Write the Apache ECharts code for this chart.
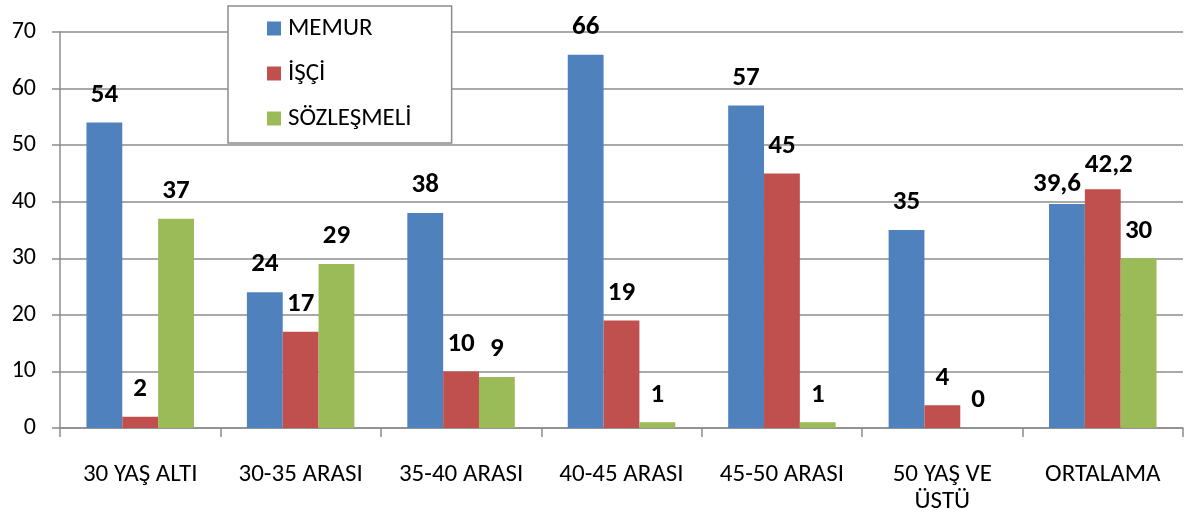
<!doctype html>
<html><head><meta charset="utf-8" />
<style>
  html,body,#app{margin:0;padding:0;width:1191px;height:515px;background:#ffffff}
</style>
<script src="https://cdn.jsdelivr.net/npm/echarts@6/dist/echarts.min.js"></script>
</head><body><div id="app"></div>
<script>
// kategoriler ve seriler
const categories = ['30 YAŞ ALTI', '30-35 ARASI', '35-40 ARASI', '40-45 ARASI', '45-50 ARASI', '50 YAŞ VE\nÜSTÜ', 'ORTALAMA'];
const seriesNames = ['MEMUR', 'İŞÇİ', 'SÖZLEŞMELİ'];
const memur = [54, 24, 38, 66, 57, 35, 39.6];
const isci = [2, 17, 10, 19, 45, 4, 42.2];
const sozlesmeli = [37, 29, 9, 1, 1, 0, 30];
const yTicks = [0, 10, 20, 30, 40, 50, 60, 70];

(function(){
  const FONT = "Carlito, Lato, 'Open Sans', sans-serif";
  const colors = ['#4F81BD', '#C0504D', '#9BBB59'];
  const values = [memur, isci, sozlesmeli];
  // ORTALAMA etiketleri üst üste binmesin diye biraz kaydırılmış
  const nudge = { '0-6': [-10, 8], '1-6': [6, 3] };

  function fmt(v){ return String(v).replace('.', ','); }

  const series = values.map(function(arr, si){
    return {
      name: seriesNames[si], type: 'bar', barGap: '0%', barCategoryGap: '33%',
      itemStyle: { color: colors[si] },
      data: arr.map(function(v, ci){
        const n = nudge[si + '-' + ci];
        const d = { value: v };
        if (n) d.label = { offset: n };
        return d;
      }),
      label: { show: true, position: 'top', distance: 14, color: '#000', fontFamily: FONT,
        fontWeight: 'bold', fontSize: 27, formatter: function(p){ return fmt(p.value); } }
    };
  });

  const chart = echarts.init(document.getElementById('app'));
  chart.setOption({
    backgroundColor: '#ffffff',
    animation: false,
    textStyle: { fontFamily: FONT },
    grid: { left: 60, right: 8, top: 32, bottom: 83, containLabel: false },
    legend: {
      orient: 'vertical', left: 228, top: 6, z: 10,
      padding: [10, 40, 12, 39], itemGap: 20,
      itemWidth: 14, itemHeight: 14, icon: 'rect',
      backgroundColor: '#ffffff', borderColor: '#8c8c8c', borderWidth: 1.5,
      textStyle: { fontFamily: FONT, fontSize: 25, color: '#000', padding: [0, 0, 0, 2] },
      data: seriesNames
    },
    xAxis: {
      type: 'category', data: categories,
      axisLine: { lineStyle: { color: '#8c8c8c', width: 1.5 } },
      axisTick: { show: true, length: 9, lineStyle: { color: '#8c8c8c', width: 1.5 } },
      axisLabel: { color: '#000', fontSize: 25, fontFamily: FONT, margin: 33, lineHeight: 27, interval: 0 }
    },
    yAxis: {
      type: 'value', min: yTicks[0], max: yTicks[yTicks.length - 1], interval: yTicks[1] - yTicks[0],
      axisLine: { show: true, lineStyle: { color: '#8c8c8c', width: 1.5 } },
      axisTick: { show: true, length: 8, lineStyle: { color: '#8c8c8c', width: 1.5 } },
      splitLine: { show: true, lineStyle: { color: '#8c8c8c', width: 1.5 } },
      axisLabel: { color: '#000', fontSize: 24, fontFamily: FONT, margin: 24 }
    },
    series: series
  });
})();
</script></body></html>
